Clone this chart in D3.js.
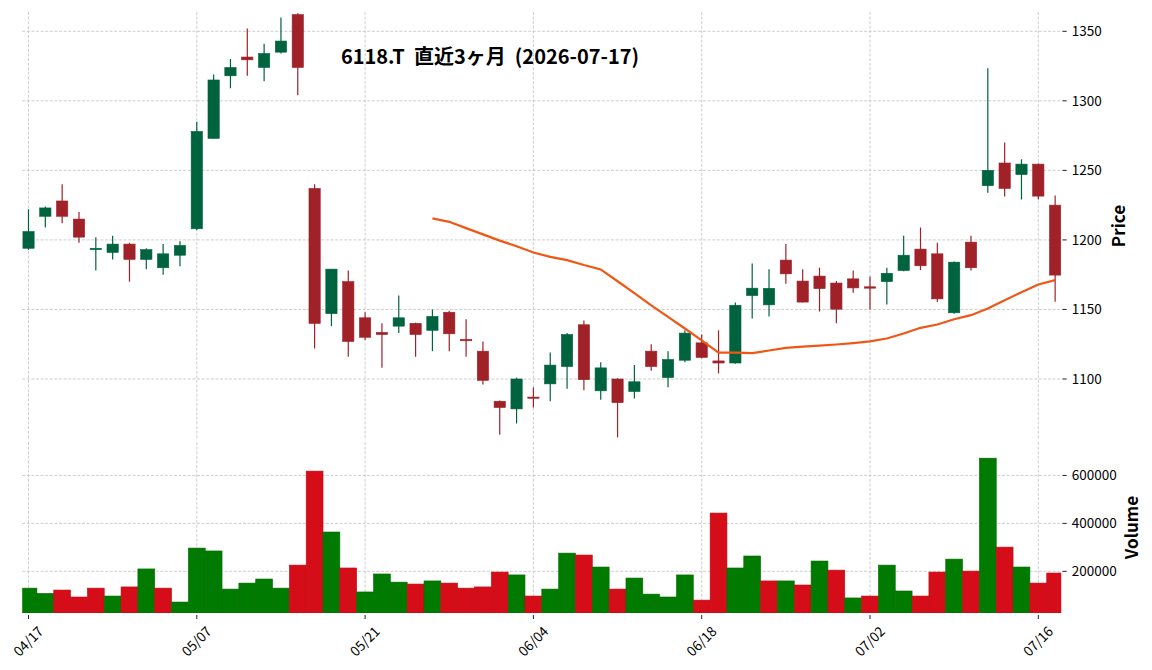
<!DOCTYPE html>
<html lang="ja">
<head>
<meta charset="UTF-8">
<script src="https://d3js.org/d3.v7.min.js"></script>
<title>6118.T</title>
<style>
  body { margin: 0; background: #fff; }
  text { font-family: "Noto Sans CJK JP", "Noto Sans", sans-serif; }
</style>
</head>
<body>
<div id="canvas"></div>
<script>
const dates = ["04/17","04/20","04/21","04/22","04/23","04/24","04/27","04/28","04/30","05/01",
  "05/07","05/08","05/11","05/12","05/13","05/14","05/15","05/18","05/19","05/20",
  "05/21","05/22","05/25","05/26","05/27","05/28","05/29","06/01","06/02","06/03",
  "06/04","06/05","06/08","06/09","06/10","06/11","06/12","06/15","06/16","06/17",
  "06/18","06/19","06/22","06/23","06/24","06/25","06/26","06/29","06/30","07/01",
  "07/02","07/03","07/06","07/07","07/08","07/09","07/10","07/13","07/14","07/15",
  "07/16","07/17"]
const opens  = [1194,1217,1228,1215,1193,1191,1197,1186,1180,1189,
  1208,1273,1318,1331.5,1324,1335,1362,1237,1147,1170,
  1144,1133.5,1138,1140,1135,1148,1128.5,1120,1084,1078.5,
  1087,1096.5,1109,1139,1091.5,1100,1091,1120,1101,1113.5,
  1126,1113,1111.5,1160,1153.3,1185.5,1170.4,1174,1169,1172,
  1166.3,1170,1178,1193.4,1190,1147.6,1198.4,1239,1255.3,1247,
  1254.5,1225]
const highs  = [1222,1224,1240,1220,1202,1203,1198,1194,1197,1199,
  1285,1319,1330,1352,1341,1360,1363,1240,1179,1178,
  1148,1140,1160,1140.5,1150,1149,1143,1127,1084.5,1101,
  1094,1119,1133,1142,1112,1100.5,1110,1125,1120,1135,
  1132,1135,1155,1183,1179,1197,1179,1180,1170.4,1178,
  1173.7,1180,1203,1209,1198,1184.5,1203,1323.5,1270,1258,
  1255,1232]
const lows   = [1193,1209,1212,1198,1178,1186,1170,1179,1175,1181,
  1207,1273,1309,1318,1314,1334,1304,1122,1138,1116,
  1128,1108,1133,1116,1120,1120,1116,1096,1060,1068,
  1079.5,1084,1093,1092,1085,1058,1086,1106,1094,1112,
  1115,1104,1111,1143.5,1145,1168.5,1155,1148.5,1140,1162,
  1150,1153.5,1177.5,1178.3,1155.3,1147,1178,1234,1231.3,1229,
  1229,1155.5]
const closes = [1206,1223,1217,1202,1194,1197,1186,1193,1190,1196,
  1278,1315,1324,1329.5,1334,1343,1324,1140,1179,1127,
  1130,1132,1144,1132,1145,1132.5,1127.5,1099,1079.5,1100,
  1086.5,1110,1132,1099.5,1108,1083,1098,1109,1114,1133,
  1115.5,1111.5,1153,1165.3,1165.2,1175.6,1155.3,1165,1150.2,1165.5,
  1165.3,1176,1189,1181.4,1157.6,1184,1180,1250,1237,1254.5,
  1231.5,1174.7]
const volumes = [130000,108000,122000,93000,130000,97000,135000,210000,130000,72000,
  297000,285000,126000,151000,168000,130000,226000,618000,364000,214000,
  114000,189000,155000,147000,160000,151000,130000,135000,197000,185000,
  97000,126000,276000,268000,218000,126000,172000,105000,93000,185000,
  80000,443000,214000,264000,160000,160000,143000,243000,205000,89000,
  97000,226000,118000,97000,197000,251000,201000,672000,301000,218000,
  151000,193000]
// 25-day moving average, first value at index 24
const maStart = 24
const ma25 = [1215.5,1213,1208.5,1204,1199.5,1195.5,1191,1187.8,1185.5,1182,
  1178.8,1170.3,1161.8,1153,1144.7,1136.3,1127.7,1119,1119,1118.6,
  1120.5,1122.4,1123.3,1124,1124.8,1125.8,1127,1129.1,1132.7,1136.8,
  1139.2,1143,1145.9,1150.7,1156.7,1162.4,1168,1171.1]
const priceTicks = [1100,1150,1200,1250,1300,1350]
const volumeTicks = [200000,400000,600000]
const dateTickIdx = [0,10,20,30,40,50,60]
const title = "6118.T  直近3ヶ月  (2026-07-17)"

const W = 1152, H = 670
const left = 22.2, right = 1061.2
const pTop = 12, pBottom = 440, vTop = 442, vBottom = 613
const upC = "#006340", downC = "#a02128"
const vUp = "#007a00", vDown = "#d50d18"
const gridC = "#c2c2c2"

const svg = d3.select("#canvas").append("svg").attr("width", W).attr("height", H)
svg.append("rect").attr("width", W).attr("height", H).attr("fill", "#fff")

const x = d3.scaleLinear().domain([-0.374, 61.36]).range([left, right])
const step = x(1) - x(0)
const yP = d3.scaleLinear().domain([1056.14, 1363.88]).range([pBottom, pTop])
const yV = d3.scaleLinear().domain([26250, 739400]).range([vBottom, vTop])

const defs = svg.append("defs")
defs.append("clipPath").attr("id", "clipP").append("rect")
  .attr("x", left).attr("y", pTop).attr("width", right - left).attr("height", pBottom - pTop)
defs.append("clipPath").attr("id", "clipV").append("rect")
  .attr("x", left).attr("y", vTop).attr("width", right - left).attr("height", vBottom - vTop)

// grid
const grid = svg.append("g").attr("stroke", gridC).attr("stroke-width", 0.8).attr("stroke-dasharray", "3,1.6")
grid.selectAll(".hp").data(priceTicks).enter().append("line")
  .attr("x1", left).attr("x2", right).attr("y1", d => yP(d)).attr("y2", d => yP(d))
grid.selectAll(".hv").data(volumeTicks).enter().append("line")
  .attr("x1", left).attr("x2", right).attr("y1", d => yV(d)).attr("y2", d => yV(d))
grid.selectAll(".vp").data(dateTickIdx).enter().append("line")
  .attr("x1", d => x(d)).attr("x2", d => x(d)).attr("y1", pTop).attr("y2", pBottom)
grid.selectAll(".vv").data(dateTickIdx).enter().append("line")
  .attr("x1", d => x(d)).attr("x2", d => x(d)).attr("y1", vTop).attr("y2", vBottom)

// candles
const candles = dates.map((d, i) => ({i: i, o: opens[i], h: highs[i], l: lows[i], c: closes[i]}))
const pg = svg.append("g").attr("clip-path", "url(#clipP)")
const bodyW = step * 0.67
pg.selectAll(".wick").data(candles).enter().append("line")
  .attr("x1", d => x(d.i)).attr("x2", d => x(d.i))
  .attr("y1", d => yP(d.h)).attr("y2", d => yP(d.l))
  .attr("stroke", d => d.c >= d.o ? upC : downC).attr("stroke-width", 1.2)
pg.selectAll(".body").data(candles).enter().append("rect")
  .attr("x", d => x(d.i) - bodyW / 2).attr("width", bodyW)
  .attr("y", d => yP(Math.max(d.o, d.c)))
  .attr("height", d => Math.max(1.2, Math.abs(yP(d.o) - yP(d.c))))
  .attr("fill", d => d.c >= d.o ? upC : downC)
  .attr("stroke", d => d.c >= d.o ? upC : downC).attr("stroke-width", 0.6)

// moving average
const line = d3.line().x((d, k) => x(maStart + k)).y(d => yP(d))
pg.append("path").datum(ma25).attr("d", line)
  .attr("fill", "none").attr("stroke", "#ef5714").attr("stroke-width", 2.2)

// volume (colour by close vs previous close)
const vg = svg.append("g").attr("clip-path", "url(#clipV)")
function volUp(i) { return i == 0 ? opens[0] < closes[0] : closes[i - 1] < closes[i] }
vg.selectAll(".vol").data(volumes).enter().append("rect")
  .attr("x", (d, i) => x(i) - step / 2).attr("width", step)
  .attr("y", d => yV(d)).attr("height", d => vBottom - yV(d))
  .attr("fill", (d, i) => volUp(i) ? vUp : vDown)
  .attr("stroke", (d, i) => volUp(i) ? "#006e00" : "#c00c16").attr("stroke-width", 0.6)

// y axes on the right
const axP = svg.append("g")
axP.selectAll("line").data(priceTicks).enter().append("line")
  .attr("x1", right + 1.2).attr("x2", right + 5.5).attr("y1", d => yP(d)).attr("y2", d => yP(d))
  .attr("stroke", "#222").attr("stroke-width", 1)
axP.selectAll("text").data(priceTicks).enter().append("text")
  .attr("x", right + 10.5).attr("y", d => yP(d)).attr("dy", "0.35em")
  .attr("font-size", 13.5).attr("fill", "#000").text(d => d)
const axV = svg.append("g")
axV.selectAll("line").data(volumeTicks).enter().append("line")
  .attr("x1", right + 1.2).attr("x2", right + 5.5).attr("y1", d => yV(d)).attr("y2", d => yV(d))
  .attr("stroke", "#222").attr("stroke-width", 1)
axV.selectAll("text").data(volumeTicks).enter().append("text")
  .attr("x", right + 10.5).attr("y", d => yV(d)).attr("dy", "0.35em")
  .attr("font-size", 13.5).attr("fill", "#000").text(d => d)

svg.append("text").attr("transform", "translate(1125," + (pTop + pBottom) / 2 + ") rotate(-90)")
  .attr("text-anchor", "middle").attr("font-size", 17).attr("font-weight", "bold").text("Price")
svg.append("text").attr("transform", "translate(1138," + (vTop + vBottom) / 2 + ") rotate(-90)")
  .attr("text-anchor", "middle").attr("font-size", 17).attr("font-weight", "bold").text("Volume")

// x axis
const axX = svg.append("g")
axX.selectAll("line").data(dateTickIdx).enter().append("line")
  .attr("x1", d => x(d)).attr("x2", d => x(d)).attr("y1", vBottom + 2).attr("y2", vBottom + 6)
  .attr("stroke", "#222").attr("stroke-width", 1)
axX.selectAll("text").data(dateTickIdx).enter().append("text")
  .attr("transform", d => "translate(" + x(d) + ",641.5) rotate(-45)")
  .attr("text-anchor", "middle").attr("dy", "0.35em")
  .attr("font-size", 13.5).attr("fill", "#000").text(d => dates[d])

// title (keep the double spaces)
svg.append("text").attr("x", 490).attr("y", 64.3).attr("text-anchor", "middle")
  .style("white-space", "pre")
  .attr("font-size", 20).attr("font-weight", "bold").attr("fill", "#000").text(title)
</script>
</body>
</html>
